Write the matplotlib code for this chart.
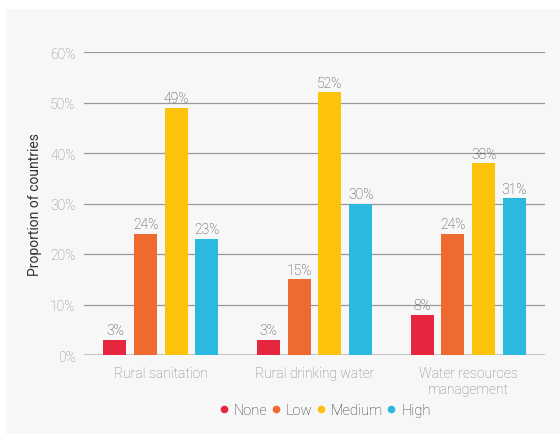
import numpy as np
import matplotlib
matplotlib.use("Agg")
import matplotlib.pyplot as plt
from matplotlib.patches import Rectangle
from matplotlib.lines import Line2D

plt.rcParams["font.family"] = ["Roboto", "DejaVu Sans"]
plt.rcParams["font.weight"] = "light"

categories = ["Rural sanitation", "Rural drinking water", "Water resources\nmanagement"]
levels = ["None", "Low", "Medium", "High"]
none_vals = [3, 3, 8]
low_vals = [24, 15, 24]
medium_vals = [49, 52, 38]
high_vals = [23, 30, 31]
colors = ["#e5263e", "#ee6a30", "#fdc20c", "#2cb9e0"]

series = [none_vals, low_vals, medium_vals, high_vals]

fig = plt.figure(figsize=(5.6, 4.35), dpi=100)
# light grey panel behind everything
bg = Rectangle((6 / 560, 0), 1, 1 - 10 / 435, transform=fig.transFigure,
               facecolor="#f7f7f7", edgecolor="none", zorder=-10)
fig.add_artist(bg)
ax = fig.add_axes([84 / 560, 1 - 356 / 435, 461 / 560, 303 / 435])
ax.set_facecolor("none")
ax.set_zorder(2)

x = np.arange(len(categories))
width = 0.15
step = 0.2
for i, (vals, c) in enumerate(zip(series, colors)):
    pos = x + (i - 1.5) * step
    ax.bar(pos, vals, width=width, color=c, zorder=3)
    for xp, v in zip(pos, vals):
        ax.text(xp, v + 0.5, f"{v}%", ha="center", va="bottom",
                fontsize=10, color="#444444", zorder=4)

ax.set_xlim(-0.5, 2.5)
ax.set_ylim(0, 60)
ax.set_yticks(np.arange(0, 61, 10))
ax.set_yticklabels([f"{t}%" for t in range(0, 61, 10)])
ax.yaxis.grid(True, color="#999999", linewidth=0.9, zorder=1)
ax.set_axisbelow(True)
ax.axhline(0, color="#c0c0c0", linewidth=2, zorder=2)
for s in ax.spines.values():
    s.set_visible(False)
ax.tick_params(axis="y", length=0, pad=6, labelsize=10, labelcolor="#888888")
ax.tick_params(axis="x", length=0, pad=8, labelsize=10, labelcolor="#808080")
ax.set_xticks(x)
ax.set_xticklabels(categories, linespacing=1.2)
ax.set_ylabel("Proportion of countries", fontsize=10, color="#333333", labelpad=6)

handles = [Line2D([], [], marker="o", linestyle="none", markersize=4.5,
                  markerfacecolor=c, markeredgecolor=c) for c in colors]
fig.legend(handles, levels, loc="center", bbox_to_anchor=(325 / 560, 1 - 411 / 435),
           ncol=4, frameon=False, fontsize=10.5, labelcolor="#333333",
           handletextpad=0.4, columnspacing=0.25, handlelength=0.6)

fig.savefig("out.png", dpi=100, facecolor="white")
